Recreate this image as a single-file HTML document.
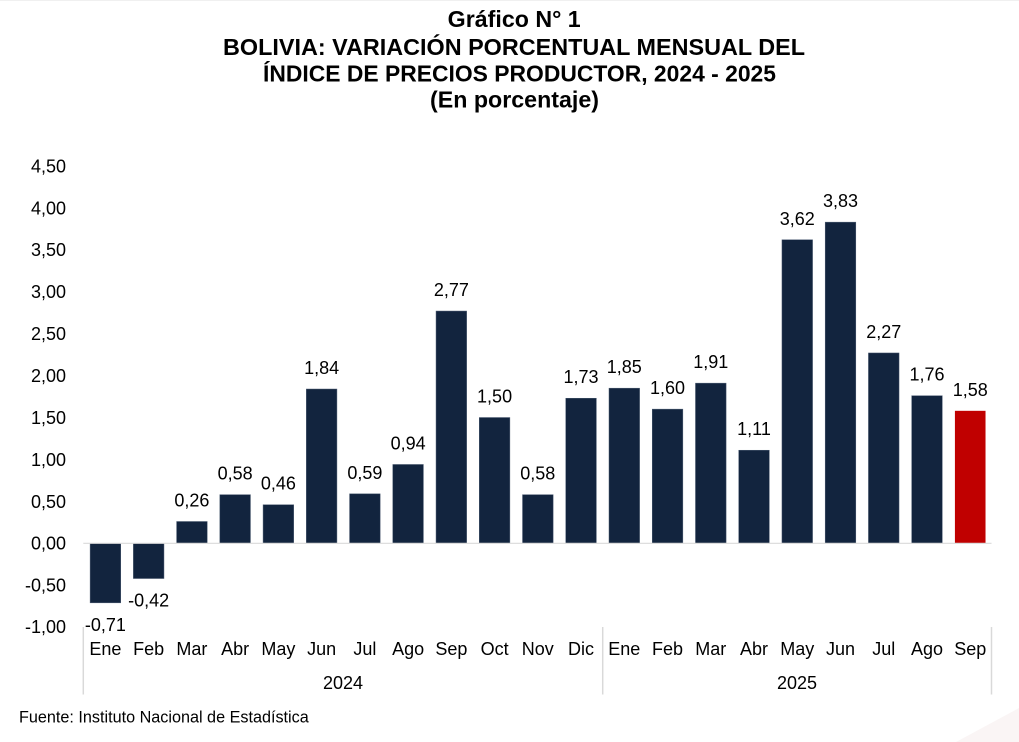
<!DOCTYPE html>
<html><head><meta charset="utf-8"><style>
html,body{margin:0;padding:0;background:#fff;}
svg{display:block;}
text{font-family:"Liberation Sans",Arial,sans-serif;fill:#000;}
.t{font-weight:bold;font-size:23px;}
.v{font-size:18px;text-anchor:middle;}
.y{font-size:18px;text-anchor:end;}
.c{font-size:18px;text-anchor:middle;}
</style></head><body>
<svg width="1019" height="742" viewBox="0 0 1019 742" xmlns="http://www.w3.org/2000/svg">
<rect x="0" y="0" width="1019" height="742" fill="#fff"/>
<polygon points="956,742 1019,708 1019,742" fill="#faf5f5"/>
<line x1="0" y1="0.5" x2="1019" y2="0.5" stroke="#f0f0f0" stroke-width="1"/>

<text class="t" x="447.7" y="27" textLength="133" lengthAdjust="spacingAndGlyphs">Gráfico N° 1</text>
<text class="t" x="223" y="55" textLength="582" lengthAdjust="spacingAndGlyphs">BOLIVIA: VARIACIÓN PORCENTUAL MENSUAL DEL</text>
<text class="t" x="263" y="81.7" textLength="513" lengthAdjust="spacingAndGlyphs">ÍNDICE DE PRECIOS PRODUCTOR, 2024 - 2025</text>
<text class="t" x="430" y="107.5" textLength="169" lengthAdjust="spacingAndGlyphs">(En porcentaje)</text>

<g>
<text class="y" x="66" y="172.4">4,50</text>
<text class="y" x="66" y="214.3">4,00</text>
<text class="y" x="66" y="256.2">3,50</text>
<text class="y" x="66" y="298.2">3,00</text>
<text class="y" x="66" y="340.1">2,50</text>
<text class="y" x="66" y="382">2,00</text>
<text class="y" x="66" y="423.9">1,50</text>
<text class="y" x="66" y="465.9">1,00</text>
<text class="y" x="66" y="507.8">0,50</text>
<text class="y" x="66" y="549.7">0,00</text>
<text class="y" x="66" y="591.6">-0,50</text>
<text class="y" x="66" y="633.2">-1,00</text>
</g>

<g fill="#12243e" stroke="#4a5a70" stroke-width="0.5">
<rect x="90.12" y="543.3" width="30.6" height="59.53"/>
<rect x="133.36" y="543.3" width="30.6" height="35.22"/>
<rect x="176.6" y="521.5" width="30.6" height="21.8"/>
<rect x="219.84" y="494.67" width="30.6" height="48.63"/>
<rect x="263.08" y="504.73" width="30.6" height="38.57"/>
<rect x="306.32" y="389.02" width="30.6" height="154.28"/>
<rect x="349.56" y="493.83" width="30.6" height="49.47"/>
<rect x="392.8" y="464.48" width="30.6" height="78.82"/>
<rect x="436.04" y="311.04" width="30.6" height="232.26"/>
<rect x="479.28" y="417.52" width="30.6" height="125.78"/>
<rect x="522.52" y="494.67" width="30.6" height="48.63"/>
<rect x="565.76" y="398.24" width="30.6" height="145.06"/>
<rect x="609" y="388.18" width="30.6" height="155.12"/>
<rect x="652.24" y="409.14" width="30.6" height="134.16"/>
<rect x="695.48" y="383.15" width="30.6" height="160.15"/>
<rect x="738.72" y="450.23" width="30.6" height="93.07"/>
<rect x="781.96" y="239.76" width="30.6" height="303.54"/>
<rect x="825.2" y="222.15" width="30.6" height="321.15"/>
<rect x="868.44" y="352.96" width="30.6" height="190.34"/>
<rect x="911.68" y="395.72" width="30.6" height="147.58"/>
</g>
<rect x="954.92" y="410.82" width="30.6" height="132.48" fill="#c00000"/>

<line x1="83.3" y1="543.3" x2="991.5" y2="543.3" stroke="#d9d9d9" stroke-width="1.2"/>

<g>
<text class="v" x="105.42" y="630.8">-0,71</text>
<text class="v" x="148.66" y="606.5">-0,42</text>
<text class="v" x="191.9" y="506.5">0,26</text>
<text class="v" x="235.14" y="479.7">0,58</text>
<text class="v" x="278.38" y="489.7">0,46</text>
<text class="v" x="321.62" y="374">1,84</text>
<text class="v" x="364.86" y="478.8">0,59</text>
<text class="v" x="408.1" y="449.5">0,94</text>
<text class="v" x="451.34" y="296">2,77</text>
<text class="v" x="494.58" y="402.5">1,50</text>
<text class="v" x="537.82" y="479.7">0,58</text>
<text class="v" x="581.06" y="383.2">1,73</text>
<text class="v" x="624.3" y="373.2">1,85</text>
<text class="v" x="667.54" y="394.1">1,60</text>
<text class="v" x="710.78" y="368.2">1,91</text>
<text class="v" x="754.02" y="435.2">1,11</text>
<text class="v" x="797.26" y="224.8">3,62</text>
<text class="v" x="840.5" y="207.2">3,83</text>
<text class="v" x="883.74" y="338">2,27</text>
<text class="v" x="926.98" y="380.7">1,76</text>
<text class="v" x="970.22" y="395.8">1,58</text>
</g>

<g>
<text class="c" x="105.42" y="655">Ene</text>
<text class="c" x="148.66" y="655">Feb</text>
<text class="c" x="191.9" y="655">Mar</text>
<text class="c" x="235.14" y="655">Abr</text>
<text class="c" x="278.38" y="655">May</text>
<text class="c" x="321.62" y="655">Jun</text>
<text class="c" x="364.86" y="655">Jul</text>
<text class="c" x="408.1" y="655">Ago</text>
<text class="c" x="451.34" y="655">Sep</text>
<text class="c" x="494.58" y="655">Oct</text>
<text class="c" x="537.82" y="655">Nov</text>
<text class="c" x="581.06" y="655">Dic</text>
<text class="c" x="624.3" y="655">Ene</text>
<text class="c" x="667.54" y="655">Feb</text>
<text class="c" x="710.78" y="655">Mar</text>
<text class="c" x="754.02" y="655">Abr</text>
<text class="c" x="797.26" y="655">May</text>
<text class="c" x="840.5" y="655">Jun</text>
<text class="c" x="883.74" y="655">Jul</text>
<text class="c" x="926.98" y="655">Ago</text>
<text class="c" x="970.22" y="655">Sep</text>
<text class="c" x="343" y="689">2024</text>
<text class="c" x="797" y="689">2025</text>
</g>

<g stroke="#d9d9d9" stroke-width="1.5">
<line x1="83.3" y1="627" x2="83.3" y2="694.5"/>
<line x1="602.7" y1="627" x2="602.7" y2="694.5"/>
<line x1="991.5" y1="627" x2="991.5" y2="694.5"/>
</g>

<text x="19" y="722.7" style="font-size:16.2px">Fuente: Instituto Nacional de Estadística</text>
</svg>
</body></html>
